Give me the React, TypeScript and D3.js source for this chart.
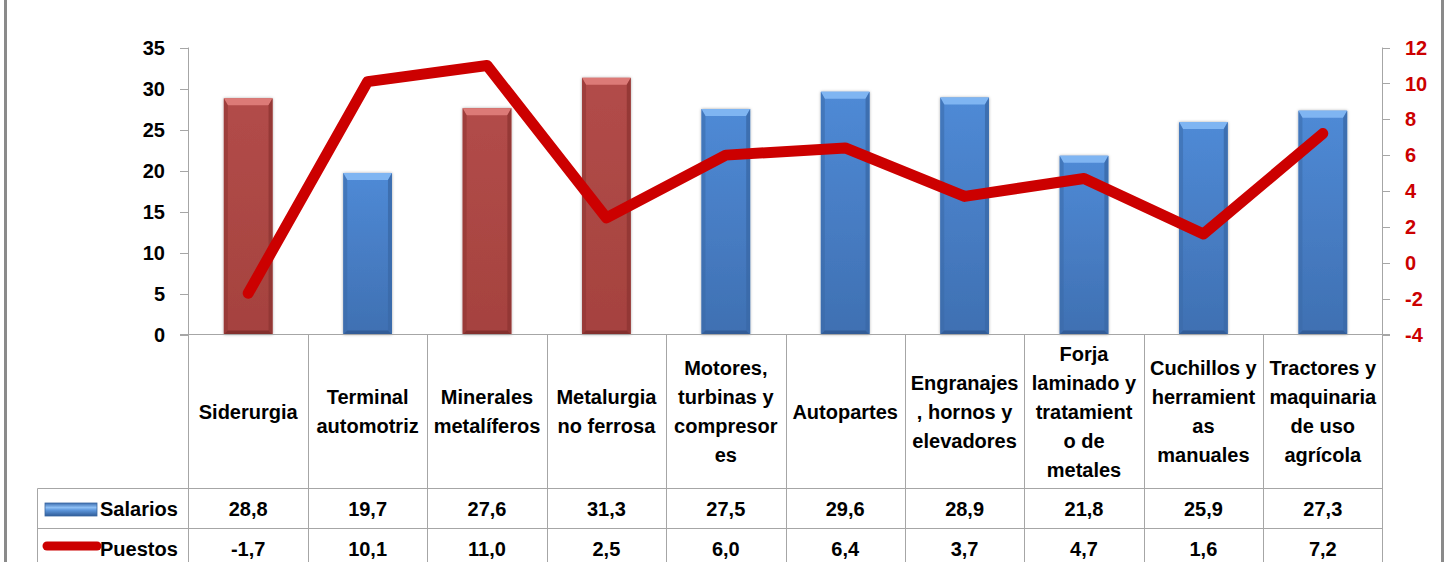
import React from "react";
import * as d3 from "d3";

const categories = [
  "Siderurgia",
  "Terminal automotriz",
  "Minerales metalíferos",
  "Metalurgia no ferrosa",
  "Motores, turbinas y compresores",
  "Autopartes",
  "Engranajes, hornos y elevadores",
  "Forja laminado y tratamiento de metales",
  "Cuchillos y herramientas manuales",
  "Tractores y maquinaria de uso agrícola",
];
const categoryLines = [
  ["Siderurgia"],
  ["Terminal", "automotriz"],
  ["Minerales", "metalíferos"],
  ["Metalurgia", "no ferrosa"],
  ["Motores,", "turbinas y", "compresor", "es"],
  ["Autopartes"],
  ["Engranajes", ", hornos y", "elevadores"],
  ["Forja", "laminado y", "tratamient", "o de", "metales"],
  ["Cuchillos y", "herramient", "as", "manuales"],
  ["Tractores y", "maquinaria", "de uso", "agrícola"],
];
const salarios = [28.8, 19.7, 27.6, 31.3, 27.5, 29.6, 28.9, 21.8, 25.9, 27.3];
const puestos = [-1.7, 10.1, 11.0, 2.5, 6.0, 6.4, 3.7, 4.7, 1.6, 7.2];
const highlighted = ["Siderurgia", "Minerales metalíferos", "Metalurgia no ferrosa"];
const leftTicks = [0, 5, 10, 15, 20, 25, 30, 35];
const rightTicks = [-4, -2, 0, 2, 4, 6, 8, 10, 12];
const seriesNames = ["Salarios", "Puestos"];

const W = 1449;
const H = 562;
const FONT = "'Liberation Sans', Arial, sans-serif";
const GRID = "#a6a6a6";
const RED = "#cc0000";

const fmt = (v: number) => v.toFixed(1).replace(".", ",");

export default function App() {
  const plotL = 188.5;
  const plotR = 1382.5;
  const plotT = 47.5;
  const plotB = 334.5;
  const labelB = 488.5;
  const row1B = 528.5;
  const row2B = 568.5;
  const legendL = 37.5;

  const x = d3.scaleBand<string>().domain(categories).range([plotL, plotR]).padding(0);
  const yL = d3.scaleLinear().domain([0, 35]).range([plotB, plotT]);
  const yR = d3.scaleLinear().domain([-4, 12]).range([plotB, plotT]);
  const bw = x.bandwidth();
  const barW = bw / 2.45;

  const line = d3
    .line<number>()
    .x((_, i) => (x(categories[i]) as number) + bw / 2)
    .y((d) => yR(d));

  const palette = (hl: boolean) =>
    hl
      ? { top: "#c05a57", bot: "#9a3b38", bevel: "#dc7a77", side: "#8e3532", bottom: "#7b2a28", id: "gRed" }
      : { top: "#5690da", bot: "#3d6dad", bevel: "#7fb5f2", side: "#3a69a8", bottom: "#2e5890", id: "gBlue" };

  return (
    <svg
      width={W}
      height={H}
      style={{ position: "absolute", left: 0, top: 0, background: "#fff" }}
      fontFamily={FONT}
    >
      <defs>
        <linearGradient id="gRed" x1="0" y1="0" x2="0" y2="1">
          <stop offset="0" stopColor="#b24c49" />
          <stop offset="1" stopColor="#a5423f" />
        </linearGradient>
        <linearGradient id="gBlue" x1="0" y1="0" x2="0" y2="1">
          <stop offset="0" stopColor="#4f8ad6" />
          <stop offset="1" stopColor="#3f70b2" />
        </linearGradient>
        <linearGradient id="gLegBlue" x1="0" y1="0" x2="0" y2="1">
          <stop offset="0" stopColor="#3d6eb0" />
          <stop offset="0.35" stopColor="#8fc0f5" />
          <stop offset="0.55" stopColor="#5e97dc" />
          <stop offset="1" stopColor="#2f5c98" />
        </linearGradient>
        <filter id="shadow" x="-20%" y="-5%" width="140%" height="110%">
          <feDropShadow dx="0" dy="0" stdDeviation="1.6" floodColor="#000" floodOpacity="0.35" />
        </filter>
      </defs>

      {/* outer borders */}
      <rect x={4} y={0} width={3} height={H} fill="#8a8a8a" />
      <rect x={1441} y={0} width={3} height={H} fill="#8a8a8a" />

      {/* bars */}
      {categories.map((c, i) => {
        const p = palette(highlighted.includes(c));
        const x0 = (x(c) as number) + (bw - barW) / 2;
        const y0 = yL(salarios[i]);
        const h = plotB - y0;
        const b = 7;
        const s = 4;
        return (
          <g key={c}>
            <rect x={x0} y={y0} width={barW} height={h} fill={`url(#${p.id})`} filter="url(#shadow)" />
            <polygon
              points={`${x0},${y0} ${x0 + barW},${y0} ${x0 + barW - s},${y0 + b} ${x0 + s},${y0 + b}`}
              fill={p.bevel}
            />
            <polygon
              points={`${x0},${y0} ${x0 + s},${y0 + b} ${x0 + s},${plotB - s} ${x0},${plotB}`}
              fill={p.side}
              opacity={0.55}
            />
            <polygon
              points={`${x0 + barW},${y0} ${x0 + barW - s},${y0 + b} ${x0 + barW - s},${plotB - s} ${x0 + barW},${plotB}`}
              fill={p.side}
              opacity={0.8}
            />
            <polygon
              points={`${x0},${plotB} ${x0 + s},${plotB - s} ${x0 + barW - s},${plotB - s} ${x0 + barW},${plotB}`}
              fill={p.bottom}
              opacity={0.8}
            />
          </g>
        );
      })}

      {/* grid / axes / table */}
      <g stroke={GRID} strokeWidth={1} fill="none">
        <line x1={180} x2={plotL} y1={plotB} y2={plotB} />
        <line x1={plotL} x2={plotR} y1={plotB} y2={plotB} />
        <line x1={plotR} x2={1390} y1={plotB} y2={plotB} />
        <line x1={plotL} x2={plotL} y1={plotT} y2={H} />
        <line x1={plotR} x2={plotR} y1={plotT} y2={H} />
        {categories.slice(1).map((c) => (
          <line key={c} x1={Math.round(x(c) as number) + 0.5} x2={Math.round(x(c) as number) + 0.5} y1={plotB} y2={H} />
        ))}
        <line x1={legendL} x2={plotR} y1={labelB} y2={labelB} />
        <line x1={legendL} x2={plotR} y1={row1B} y2={row1B} />
        <line x1={legendL} x2={legendL} y1={labelB} y2={H} />
        {leftTicks.map((t) => (
          <line key={"l" + t} x1={180} x2={plotL} y1={Math.round(yL(t)) + 0.5} y2={Math.round(yL(t)) + 0.5} />
        ))}
        {rightTicks.map((t) => (
          <line key={"r" + t} x1={plotR} x2={1390} y1={Math.round(yR(t)) + 0.5} y2={Math.round(yR(t)) + 0.5} />
        ))}
      </g>

      {/* line series */}
      <path
        d={line(puestos) as string}
        fill="none"
        stroke={RED}
        strokeWidth={11}
        strokeLinejoin="round"
        strokeLinecap="round"
      />

      {/* left axis labels */}
      <g fontSize={20} fontWeight="bold" fill="#000" textAnchor="end">
        {leftTicks.map((t) => (
          <text key={t} x={165} y={yL(t)} dy="0.36em">
            {t}
          </text>
        ))}
      </g>
      {/* right axis labels */}
      <g fontSize={20} fontWeight="bold" fill={RED} textAnchor="start">
        {rightTicks.map((t) => (
          <text key={t} x={1405} y={yR(t)} dy="0.36em">
            {t}
          </text>
        ))}
      </g>

      {/* category labels */}
      <g fontSize={20} fontWeight="bold" fill="#000" textAnchor="middle">
        {categories.map((c, i) => {
          const lines = categoryLines[i];
          const lh = 29;
          const cx = (x(c) as number) + bw / 2;
          const mid = (plotB + labelB) / 2;
          const first = mid - ((lines.length - 1) * lh) / 2;
          return (
            <text key={c} x={cx}>
              {lines.map((ln, j) => (
                <tspan key={j} x={cx} y={first + j * lh} dy="0.36em">
                  {ln}
                </tspan>
              ))}
            </text>
          );
        })}
      </g>

      {/* table values */}
      <g fontSize={20} fontWeight="bold" fill="#000" textAnchor="middle">
        {categories.map((c, i) => (
          <text key={"s" + c} x={(x(c) as number) + bw / 2} y={(labelB + row1B) / 2} dy="0.36em">
            {fmt(salarios[i])}
          </text>
        ))}
        {categories.map((c, i) => (
          <text key={"p" + c} x={(x(c) as number) + bw / 2} y={(row1B + row2B) / 2} dy="0.36em">
            {fmt(puestos[i])}
          </text>
        ))}
      </g>

      {/* legend keys */}
      <rect x={45} y={503} width={52} height={13} fill="url(#gLegBlue)" stroke="#3a66a0" strokeWidth={0.8} />
      <line x1={47} x2={97} y1={546} y2={546} stroke={RED} strokeWidth={9} strokeLinecap="round" />
      <g fontSize={20} fontWeight="bold" fill="#000">
        <text x={100} y={(labelB + row1B) / 2} dy="0.36em">
          {seriesNames[0]}
        </text>
        <text x={100} y={(row1B + row2B) / 2} dy="0.36em">
          {seriesNames[1]}
        </text>
      </g>
    </svg>
  );
}
